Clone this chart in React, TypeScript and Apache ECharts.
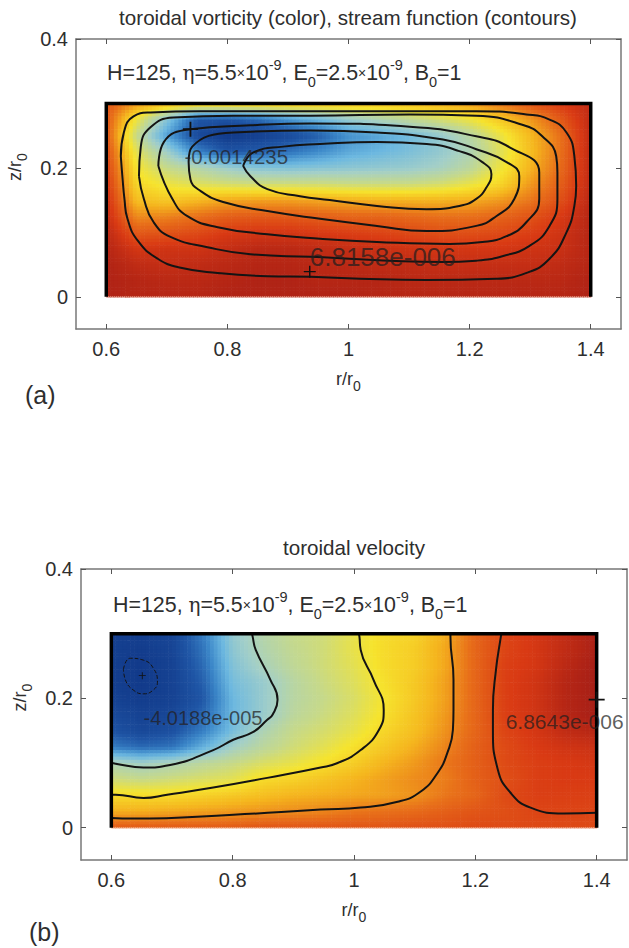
import React, { useEffect, useRef } from "react";
import * as echarts from "echarts";

const FONT = '"Liberation Sans", Arial, sans-serif';
const TEXT = "#2e2e2e";

const rNodes = [0.6, 0.65, 0.7, 0.75, 0.8, 0.85, 0.9, 0.95, 1, 1.05, 1.1, 1.15, 1.2, 1.25, 1.3, 1.35, 1.4];
const zNodes = [0.3, 0.275, 0.25, 0.225, 0.2, 0.175, 0.15, 0.125, 0.1, 0.075, 0.05, 0.025, 0];
const xTicks = [0.6, 0.8, 1, 1.2, 1.4];
const yTicks = [0, 0.2, 0.4];

// colour index 0 (dark blue) .. 10 (dark red) at the r/z nodes
const vorticity = [
  [8.5, 7.5, 7, 6.8, 6.8, 6.8, 6.8, 6.8, 6.8, 6.8, 6.9, 7.1, 7.4, 7.9, 8.5, 9, 9.5],
  [8.5, 5.8, 3.5, 1, 0.9, 1.4, 2.3, 3, 3.8, 4.3, 4.8, 5.3, 5.8, 6.6, 7.4, 8.4, 9.5],
  [8.5, 5, 2.5, 0.6, 0, 0.2, 0.6, 1.2, 2.2, 2.6, 3.1, 3.7, 4.6, 5.7, 6.9, 8, 9.5],
  [8.7, 5.6, 4, 2, 1, 1.2, 1.6, 2.1, 2.7, 3, 3.3, 3.7, 4.3, 5.5, 6.8, 8, 9.5],
  [8.9, 6, 5, 4.5, 3.9, 3.5, 3.4, 3.5, 3.6, 3.7, 3.8, 4.1, 4.7, 5.8, 7, 8.1, 9.5],
  [9.1, 6.3, 5.8, 5.5, 5.3, 5.2, 5.2, 5.2, 5.1, 5.1, 5.1, 5.3, 5.7, 6.3, 7.4, 8.3, 9.5],
  [9.3, 6.8, 6.6, 6.9, 7.2, 7.3, 7.3, 7.2, 7.1, 7, 7, 7, 7.1, 7.4, 7.9, 8.6, 9.6],
  [9.4, 7.6, 7.7, 8, 8.3, 8.4, 8.4, 8.3, 8.2, 8.2, 8.1, 8, 8, 8.2, 8.5, 9, 9.7],
  [9.6, 8.4, 8.5, 8.7, 9, 9.1, 9.1, 9, 8.9, 8.8, 8.7, 8.6, 8.6, 8.7, 8.9, 9.2, 9.7],
  [9.7, 9.1, 9.2, 9.2, 9.4, 9.6, 9.6, 9.5, 9.4, 9.3, 9.2, 9.1, 9.1, 9.1, 9.2, 9.3, 9.7],
  [9.8, 9.5, 9.4, 9.5, 9.6, 9.7, 9.7, 9.6, 9.6, 9.5, 9.5, 9.4, 9.4, 9.4, 9.4, 9.5, 9.7],
  [9.8, 9.7, 9.6, 9.6, 9.7, 9.8, 9.8, 9.7, 9.7, 9.7, 9.6, 9.6, 9.6, 9.6, 9.6, 9.6, 9.8],
  [9.8, 9.7, 9.7, 9.7, 9.8, 9.8, 9.8, 9.8, 9.8, 9.7, 9.7, 9.7, 9.7, 9.7, 9.7, 9.7, 9.8],
];

const velocity = [
  [0.2, 0.2, 0.4, 1.8, 3.7, 4.5, 5, 5.2, 5.7, 6.2, 6.4, 7.1, 8.2, 8.8, 9.1, 9.5, 9.9],
  [0.2, 0.1, 0.4, 1.6, 3.6, 4.4, 4.9, 5.2, 5.7, 6.2, 6.5, 7.2, 8.2, 8.8, 9.1, 9.5, 9.9],
  [0.2, 0, 0.3, 1.4, 3.4, 4.2, 4.8, 5.2, 5.6, 6.2, 6.5, 7.2, 8.2, 8.9, 9.1, 9.6, 10],
  [0.2, 0, 0.3, 1.2, 3.2, 3.8, 4.6, 5.1, 5.5, 6.1, 6.6, 7.3, 8.2, 8.9, 9.2, 9.7, 10],
  [0.3, 0.1, 0.3, 1, 3, 3.8, 4.6, 5, 5.4, 6, 6.6, 7.3, 8.2, 8.9, 9.2, 9.7, 10],
  [0.6, 0.3, 0.5, 1.3, 3, 3.8, 4.7, 5.1, 5.5, 6.1, 6.7, 7.4, 8.2, 8.9, 9.2, 9.7, 10],
  [0.9, 0.5, 0.8, 1.8, 3.2, 4.3, 5, 5.3, 5.7, 6.3, 6.8, 7.5, 8.2, 8.8, 9.1, 9.5, 9.7],
  [1.8, 1.4, 1.6, 2.8, 4, 4.7, 5.2, 5.6, 6.1, 6.6, 7.1, 7.7, 8.3, 8.7, 9, 9.2, 9.3],
  [4.3, 4, 4.3, 4.7, 5, 5.4, 5.7, 6.1, 6.5, 7, 7.4, 7.9, 8.3, 8.7, 8.9, 9, 9.1],
  [5.2, 5, 5.2, 5.4, 5.6, 6.2, 6.4, 6.7, 7, 7.3, 7.6, 7.8, 8.3, 8.6, 8.9, 9, 9],
  [6.2, 6.2, 6.2, 6.4, 6.6, 6.8, 7, 7.1, 7.2, 7.3, 7.5, 7.9, 8.2, 8.7, 8.9, 8.9, 8.9],
  [7.1, 7.1, 7.2, 7.3, 7.4, 7.5, 7.6, 7.7, 7.9, 8, 8.1, 8.3, 8.5, 8.6, 8.8, 8.8, 8.8],
  [8.4, 8.4, 8.4, 8.4, 8.4, 8.5, 8.5, 8.5, 8.5, 8.5, 8.6, 8.6, 8.7, 8.7, 8.7, 8.7, 8.7],
];

const colorStops = ["#123a8a", "#1f55a5", "#3b86c8", "#6cb8e0", "#a3cfc8", "#c6d98a", "#f6e42e", "#f5b51e", "#e8701a", "#d93a14", "#a61e16"];

const streamA1 = [[0.624, 0.218], [0.627, 0.182], [0.63, 0.152], [0.635, 0.121], [0.652, 0.087], [0.685, 0.059], [0.723, 0.045], [0.784, 0.037], [0.866, 0.032], [0.937, 0.031], [1.019, 0.028], [1.129, 0.026], [1.244, 0.028], [1.294, 0.037], [1.332, 0.059], [1.36, 0.1], [1.373, 0.141], [1.376, 0.172], [1.373, 0.218], [1.36, 0.255], [1.332, 0.275], [1.294, 0.283], [1.211, 0.288], [0.953, 0.288], [0.756, 0.288], [0.673, 0.286], [0.645, 0.28], [0.629, 0.255], [0.624, 0.218]];
const streamA2 = [[0.654, 0.187], [0.662, 0.152], [0.678, 0.116], [0.706, 0.093], [0.767, 0.077], [0.838, 0.066], [0.937, 0.062], [1.156, 0.054], [1.211, 0.056], [1.254, 0.063], [1.299, 0.079], [1.332, 0.11], [1.345, 0.152], [1.345, 0.193], [1.343, 0.218], [1.32, 0.249], [1.287, 0.267], [1.211, 0.281], [1.101, 0.283], [0.937, 0.281], [0.81, 0.281], [0.711, 0.278], [0.673, 0.263], [0.657, 0.233], [0.654, 0.187]];
const streamA3 = [[0.686, 0.203], [0.695, 0.24], [0.739, 0.26], [0.838, 0.266], [0.937, 0.269], [1.101, 0.264], [1.211, 0.249], [1.266, 0.232], [1.315, 0.193], [1.315, 0.152], [1.294, 0.116], [1.261, 0.094], [1.221, 0.085], [1.167, 0.082], [1.047, 0.085], [0.953, 0.09], [0.866, 0.097], [0.784, 0.108], [0.734, 0.125], [0.709, 0.152], [0.686, 0.203]];
const streamA4 = [[0.736, 0.209], [0.742, 0.233], [0.81, 0.255], [0.937, 0.258], [1.047, 0.255], [1.156, 0.244], [1.211, 0.229], [1.261, 0.209], [1.282, 0.187], [1.274, 0.152], [1.244, 0.125], [1.211, 0.11], [1.129, 0.102], [1.047, 0.11], [0.953, 0.121], [0.866, 0.133], [0.793, 0.147], [0.756, 0.164], [0.739, 0.182], [0.736, 0.209]];
const streamA5 = [[0.826, 0.203], [0.838, 0.187], [0.866, 0.167], [0.92, 0.156], [0.969, 0.15], [1.047, 0.141], [1.129, 0.136], [1.183, 0.141], [1.211, 0.152], [1.228, 0.17], [1.236, 0.19], [1.221, 0.209], [1.183, 0.226], [1.129, 0.237], [1.047, 0.24], [0.953, 0.237], [0.892, 0.233], [0.843, 0.224], [0.826, 0.203]];

const velA1 = [[0.832, 0.3], [0.833, 0.295], [0.838, 0.275], [0.862, 0.229], [0.874, 0.198], [0.866, 0.175], [0.857, 0.167], [0.834, 0.148], [0.801, 0.136], [0.768, 0.12], [0.697, 0.097], [0.653, 0.093], [0.607, 0.099], [0.6, 0.1]];
const velA2 = [[1.008, 0.3], [1.009, 0.295], [1.011, 0.275], [1.032, 0.229], [1.049, 0.182], [1.041, 0.151], [1.011, 0.12], [0.973, 0.1], [0.945, 0.093], [0.857, 0.077], [0.768, 0.062], [0.692, 0.051], [0.653, 0.046], [0.607, 0.051], [0.6, 0.051]];
const velA3 = [[1.159, 0.3], [1.159, 0.295], [1.164, 0.229], [1.164, 0.182], [1.163, 0.151], [1.154, 0.116], [1.138, 0.085], [1.11, 0.056], [1.072, 0.04], [1.011, 0.031], [0.945, 0.028], [0.801, 0.02], [0.636, 0.014], [0.6, 0.015]];
const velA4 = [[1.243, 0.3], [1.242, 0.295], [1.234, 0.244], [1.229, 0.182], [1.229, 0.151], [1.237, 0.09], [1.258, 0.054], [1.291, 0.031], [1.346, 0.022], [1.4, 0.023]];
const velEye = [[0.62, 0.245], [0.631, 0.262], [0.653, 0.259], [0.669, 0.247], [0.676, 0.225], [0.668, 0.212], [0.653, 0.207], [0.636, 0.213], [0.623, 0.229], [0.62, 0.245]];

const boundary = [[0.6, 0], [0.6, 0.3], [1.4, 0.3], [1.4, 0]];
const bottomEdge = [[0.6, 0], [1.4, 0]];

const crossesA = [[0.739, 0.26], [0.936, 0.039]];
const crossSizesA = [15, 12];
const crossesB = [[0.651, 0.235], [1.4, 0.198]];
const crossSizesB = [7, 16];
const labelsA: [number, number, string, number][] = [[0.729, 0.218, "-0.0014235", 20.5], [0.936, 0.062, "6.8158e-006", 26]];
const labelsB: [number, number, string, number][] = [[0.653, 0.17, "-4.0188e-005", 20], [1.25, 0.164, "6.8643e-006", 21]];

const titleA = "toroidal vorticity (color), stream function (contours)";
const titleB = "toroidal velocity";
const params = "{n|H=125, }{g|η}{n|=5.5}{m|×}{n|10}{sup|-9}{n|, E}{sub|0}{n|=2.5}{m|×}{n|10}{sup|-9}{n|, B}{sub|0}{n|=1}";

const parsedStops = colorStops.map((c) => [parseInt(c.slice(1, 3), 16), parseInt(c.slice(3, 5), 16), parseInt(c.slice(5, 7), 16)]);
function colorOf(v: number) {
  const t = Math.max(0, Math.min(9.999, v));
  const i = Math.floor(t);
  const f = t - i;
  const a = parsedStops[i];
  const b = parsedStops[i + 1];
  return `rgb(${Math.round(a[0] + (b[0] - a[0]) * f)},${Math.round(a[1] + (b[1] - a[1]) * f)},${Math.round(a[2] + (b[2] - a[2]) * f)})`;
}

function fieldCells(rows: number[][]) {
  const out: number[][] = [];
  for (let j = 0; j < zNodes.length - 1; j++) {
    for (let i = 0; i < rNodes.length - 1; i++) {
      out.push([rNodes[i], zNodes[j], rNodes[i + 1], zNodes[j + 1], rows[j][i], rows[j][i + 1], rows[j + 1][i], rows[j + 1][i + 1]]);
    }
  }
  return out;
}

const SUB_X = 8;
const SUB_Y = 5;
function renderCell(_: any, api: any) {
  const r0 = api.value(0), z0 = api.value(1), r1 = api.value(2), z1 = api.value(3);
  const tl = api.value(4), tr = api.value(5), bl = api.value(6), br = api.value(7);
  const p0 = api.coord([r0, z0]);
  const p1 = api.coord([r1, z1]);
  const w = (p1[0] - p0[0]) / SUB_X;
  const h = (p1[1] - p0[1]) / SUB_Y;
  const children: any[] = [];
  for (let a = 0; a < SUB_X; a++) {
    for (let b = 0; b < SUB_Y; b++) {
      const u = (a + 0.5) / SUB_X;
      const s = (b + 0.5) / SUB_Y;
      const v = (tl * (1 - u) + tr * u) * (1 - s) + (bl * (1 - u) + br * u) * s;
      children.push({
        type: "rect",
        shape: { x: p0[0] + a * w, y: p0[1] + b * h, width: w + 0.6, height: h + 0.6 },
        style: { fill: colorOf(v) },
      });
    }
  }
  return { type: "group", children };
}

const textBase = { fontFamily: FONT, fontSize: 20, color: TEXT };
const subRich = {
  sub: { fontFamily: FONT, fontSize: 14, color: TEXT, verticalAlign: "bottom", lineHeight: 28 },
  n: { fontFamily: FONT, fontSize: 18, color: TEXT, lineHeight: 28 },
};

function axesFor(grid: number) {
  const x = {
    type: "value", gridIndex: grid, min: 0.55, max: 1.45, splitLine: { show: false },
    axisLine: { show: true, onZero: false, lineStyle: { color: "#777777", width: 1.5 } },
    axisTick: { show: true, inside: true, length: 5, customValues: xTicks, lineStyle: { color: "#555555" } },
  };
  const y = {
    type: "value", gridIndex: grid, min: -0.05, max: 0.4, splitLine: { show: false },
    axisLine: { show: true, onZero: false, lineStyle: { color: "#777777", width: 1.5 } },
    axisTick: { show: true, inside: true, length: 5, customValues: yTicks, lineStyle: { color: "#555555" } },
  };
  return {
    xAxis: [
      {
        ...x, position: "bottom",
        axisLabel: { ...textBase, margin: 10, customValues: xTicks, formatter: (v: number) => String(v) },
        name: "{n|r/r}{sub|0}", nameLocation: "middle", nameGap: 36,
        nameTextStyle: { ...textBase, fontSize: 18, rich: subRich },
      },
      { ...x, position: "top", axisLabel: { show: false } },
    ],
    yAxis: [
      {
        ...y, position: "left",
        axisLabel: { ...textBase, margin: 8, customValues: yTicks, formatter: (v: number) => String(v) },
        name: "{n|z/r}{sub|0}", nameLocation: "middle", nameGap: 37,
        nameTextStyle: { ...textBase, fontSize: 18, padding: [0, 0, 0, 34], rich: subRich },
      },
      { ...y, position: "right", axisLabel: { show: false } },
    ],
  };
}

function contour(data: number[][], idx: number, width = 2, type: string = "solid", smooth: number = 0.5) {
  return {
    type: "line", xAxisIndex: idx, yAxisIndex: idx, data, smooth, showSymbol: false, symbol: "none", silent: true, z: 4,
    lineStyle: { color: "#141414", width, type },
  };
}

function panelSeries(rows: number[][], lines: any[], crosses: number[][], sizes: number[], labels: [number, number, string, number][], idx: number) {
  return [
    {
      type: "custom", xAxisIndex: idx, yAxisIndex: idx, data: fieldCells(rows), renderItem: renderCell, silent: true, z: 2,
      encode: { x: [0, 2], y: [1, 3] },
    },
    {
      type: "line", xAxisIndex: idx, yAxisIndex: idx, data: bottomEdge, showSymbol: false, symbol: "none", silent: true, z: 3,
      lineStyle: { color: "#f6cdb8", width: 1, type: "dotted" },
    },
    {
      type: "line", xAxisIndex: idx, yAxisIndex: idx, data: boundary, showSymbol: false, symbol: "none", silent: true, z: 5,
      lineStyle: { color: "#000000", width: 3.5, join: "miter", cap: "butt" },
    },
    ...lines,
    {
      type: "scatter", xAxisIndex: idx, yAxisIndex: idx, silent: true, z: 6,
      data: crosses.map((c, i) => ({ value: c, symbolSize: sizes[i] })),
      symbol: "path://M4.4 0H5.6V4.4H10V5.6H5.6V10H4.4V5.6H0V4.4H4.4Z",
      itemStyle: { color: "#111111", opacity: 1 },
    },
    {
      type: "scatter", xAxisIndex: idx, yAxisIndex: idx, silent: true, z: 7, symbolSize: 0,
      data: labels.map((l) => ({
        value: [l[0], l[1]],
        label: {
          show: true, position: "right", distance: 0, formatter: l[2], fontFamily: FONT, fontSize: l[3],
          color: "rgba(35,30,30,0.92)",
        },
      })),
    },
  ];
}

export default function App() {
  const ref = useRef<HTMLDivElement>(null);
  useEffect(() => {
    const chart = echarts.init(ref.current!, null, { renderer: "svg" });
    const a = axesFor(0);
    const b = axesFor(1);
    const richParams = {
      n: { fontFamily: FONT, fontSize: 21.4, fill: TEXT, lineHeight: 32 },
      g: { fontFamily: '"DejaVu Serif", serif', fontSize: 20, fill: TEXT, lineHeight: 32 },
      m: { fontFamily: FONT, fontSize: 14, fill: TEXT, lineHeight: 32 },
      sup: { fontFamily: FONT, fontSize: 14.5, fill: TEXT, verticalAlign: "top", lineHeight: 32 },
      sub: { fontFamily: FONT, fontSize: 14.5, fill: TEXT, verticalAlign: "bottom", lineHeight: 32 },
    };
    chart.setOption({
      animation: false,
      backgroundColor: "#ffffff",
      grid: [
        { left: 76, top: 39, width: 545, height: 290, containLabel: false, outerBoundsMode: "none" },
        { left: 81, top: 569, width: 546, height: 291, containLabel: false, outerBoundsMode: "none" },
      ],
      xAxis: [
        a.xAxis[0],
        { ...a.xAxis[1], gridIndex: 0 },
        { ...b.xAxis[0], gridIndex: 1 },
        { ...b.xAxis[1], gridIndex: 1 },
      ],
      yAxis: [
        a.yAxis[0],
        { ...a.yAxis[1], gridIndex: 0 },
        { ...b.yAxis[0], gridIndex: 1 },
        { ...b.yAxis[1], gridIndex: 1 },
      ],
      series: [
        ...panelSeries(vorticity, [
          contour(streamA1, 0), contour(streamA2, 0), contour(streamA3, 0), contour(streamA4, 0), contour(streamA5, 0),
        ], crossesA, crossSizesA, labelsA, 0),
        ...panelSeries(velocity, [
          contour(velA1, 2), contour(velA2, 2), contour(velA3, 2), contour(velA4, 2), contour(velEye, 2, 1, "dashed"),
        ], crossesB, crossSizesB, labelsB, 2),
      ],
      graphic: [
        { type: "text", x: 348, y: 17, style: { text: titleA, textAlign: "center", textVerticalAlign: "middle", font: `20.6px ${FONT}`, fill: TEXT } },
        { type: "text", x: 354, y: 547, style: { text: titleB, textAlign: "center", textVerticalAlign: "middle", font: `20.6px ${FONT}`, fill: TEXT } },
        { type: "text", x: 107, y: 73, style: { text: params, textVerticalAlign: "middle", rich: richParams, font: `21.4px ${FONT}`, fill: TEXT } },
        { type: "text", x: 113, y: 605, style: { text: params, textVerticalAlign: "middle", rich: richParams, font: `21.4px ${FONT}`, fill: TEXT } },
        { type: "text", x: 25, y: 395, style: { text: "(a)", textVerticalAlign: "middle", font: `25px ${FONT}`, fill: TEXT } },
        { type: "text", x: 29, y: 932, style: { text: "(b)", textVerticalAlign: "middle", font: `25px ${FONT}`, fill: TEXT } },
      ],
    });
    return () => chart.dispose();
  }, []);
  return <div ref={ref} style={{ position: "absolute", left: 0, top: 0, width: 629, height: 948 }} />;
}
